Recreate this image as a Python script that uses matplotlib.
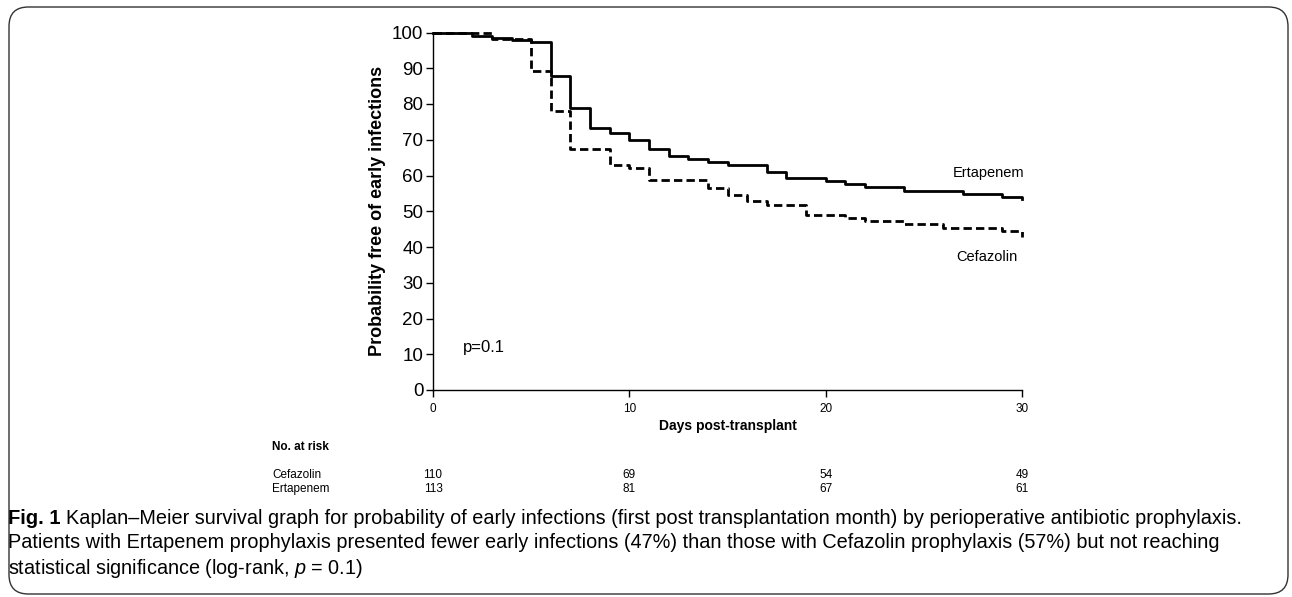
import matplotlib
matplotlib.use("Agg")
import matplotlib.pyplot as plt
import matplotlib.transforms as mtransforms
from matplotlib.patches import FancyBboxPatch

plt.rcParams['font.family'] = ['Liberation Sans', 'DejaVu Sans']
plt.rcParams['mathtext.fontset'] = 'custom'
plt.rcParams['mathtext.rm'] = 'Liberation Sans'
plt.rcParams['mathtext.it'] = 'Liberation Sans:italic'

# Kaplan-Meier curves (days, % free of infection)
erta_days = [0, 2, 3, 4, 5, 6, 7, 8, 9, 10, 11, 12, 13, 14, 15, 17, 18, 20, 21, 22, 24, 27, 29, 30]
erta_surv = [100, 99.1, 98.6, 98.0, 97.4, 87.7, 78.8, 73.4, 71.8, 70.0, 67.4, 65.5, 64.7, 63.8, 63.0,
             61.1, 59.4, 58.5, 57.7, 56.8, 55.8, 54.9, 53.9, 53.4]
cefa_days = [0, 3, 5, 6, 7, 9, 10, 11, 14, 15, 16, 17, 19, 21, 22, 24, 26, 29, 30]
cefa_surv = [100, 98.2, 89.2, 78.1, 67.3, 62.8, 62.0, 58.8, 56.5, 54.6, 53.0, 51.8, 49.0, 48.2,
             47.4, 46.3, 45.4, 44.6, 42.9]

risk_days = [0, 10, 20, 30]
risk_groups = ['Cefazolin', 'Ertapenem']
risk_counts = [[110, 69, 54, 49],
               [113, 81, 67, 61]]

caption = [
    "Kaplan\u2013Meier survival graph for probability of early infections (first post transplantation month) by perioperative antibiotic prophylaxis.",
    "Patients with Ertapenem prophylaxis presented fewer early infections (47%) than those with Cefazolin prophylaxis (57%) but not reaching",
    "statistical significance (log-rank, $p$ = 0.1)",
]

W, H = 1292, 597
fig = plt.figure(figsize=(W / 100, H / 100), dpi=100)


def fx(px):
    return px / W


def fy(py):
    return 1 - py / H


ax = fig.add_axes([fx(433), fy(390), fx(1022) - fx(433), fy(32.5) - fy(390)])
ax.step(erta_days, erta_surv, where='post', color='black', lw=2, clip_on=False)
ax.step(cefa_days, cefa_surv, where='post', color='black', lw=2, dashes=(3, 1.5), clip_on=False)

ax.set_xlim(0, 30)
ax.set_ylim(0, 100)
ax.set_xticks(risk_days)
ax.set_yticks(range(0, 101, 10))
for s in ['top', 'right']:
    ax.spines[s].set_visible(False)
for s in ['left', 'bottom']:
    ax.spines[s].set_linewidth(1)
ax.tick_params(axis='y', labelsize=13.5, length=5, width=1, pad=2)
ax.tick_params(axis='x', labelsize=8.5, length=5, width=1, pad=4)
ax.set_xlabel("Days post-transplant", fontsize=10, fontweight='bold', labelpad=3)
ax.set_ylabel("Probability free of early infections", fontsize=13, fontweight='bold', labelpad=4)

ax.text(28.3, 60.8, "Ertapenem", fontsize=10.5, ha='center', va='center')
ax.text(28.2, 37.1, "Cefazolin", fontsize=10.5, ha='center', va='center')
ax.text(1.5, 11.8, "p=0.1", fontsize=12, ha='left', va='center')

# number at risk table
tr = mtransforms.blended_transform_factory(ax.transData, fig.transFigure)
fig.text(fx(272), fy(447), "No. at risk", fontsize=8.5, fontweight='bold', va='center')
for i, grp in enumerate(risk_groups):
    yrow = fy(475 + 14 * i)
    fig.text(fx(272), yrow, grp, fontsize=8.5, va='center')
    for d, n in zip(risk_days, risk_counts[i]):
        ax.text(d, yrow, str(n), transform=tr, fontsize=8.5, ha='center', va='center')

# caption
fig.canvas.draw()
r = fig.canvas.get_renderer()
t = fig.text(fx(8), fy(518), "Fig. 1", fontsize=14.5, fontweight='bold', va='center')
bb = t.get_window_extent(r)
fig.text(bb.x1 / W + fx(5), fy(518), caption[0], fontsize=14.3, va='center')
fig.text(fx(8), fy(543), caption[1], fontsize=14.3, va='center')
fig.text(fx(8), fy(568), caption[2], fontsize=14.3, va='center')

box = FancyBboxPatch((fx(9), fy(594)), fx(1288) - fx(9), fy(7) - fy(594),
                     boxstyle="round,pad=0,rounding_size=0.015", transform=fig.transFigure,
                     fill=False, edgecolor='#333333', lw=1, mutation_aspect=W / H)
fig.patches.append(box)

fig.savefig("out.png", dpi=100)
